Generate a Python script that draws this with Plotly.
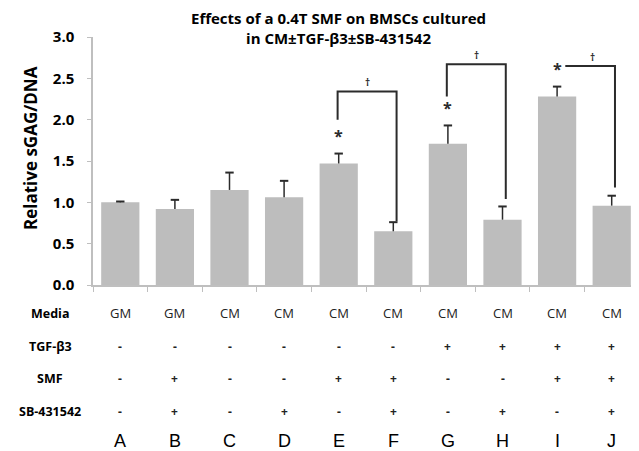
import plotly.graph_objects as go

groups = ["A", "B", "C", "D", "E", "F", "G", "H", "I", "J"]
values = [1.00, 0.92, 1.15, 1.06, 1.47, 0.65, 1.71, 0.79, 2.28, 0.96]
err_up = [0.01, 0.11, 0.21, 0.20, 0.12, 0.11, 0.22, 0.16, 0.12, 0.12]
media = ["GM", "GM", "CM", "CM", "CM", "CM", "CM", "CM", "CM", "CM"]
tgf = ["-", "-", "-", "-", "-", "-", "+", "+", "+", "+"]
smf = ["-", "+", "-", "-", "+", "+", "-", "-", "+", "+"]
sb = ["-", "+", "-", "+", "-", "+", "-", "+", "-", "+"]
row_labels = ["Media", "TGF-β3", "SMF", "SB-431542"]
y_ticks = [0.0, 0.5, 1.0, 1.5, 2.0, 2.5, 3.0]

# significance
star_groups = ["E", "G", "I"]
star_y = [1.84, 2.18, 2.65]
# brackets: left group, right group, top, left bottom, right bottom
br_left = ["E", "G", "I"]
br_right = ["F", "H", "J"]
br_top = [2.34, 2.67, 2.65]
br_left_bottom = [2.00, 2.28, 2.65]
br_right_bottom = [0.77, 1.04, 1.18]
dagger_y = [2.45, 2.78, 2.76]

# the page body adds an 8px offset, so the figure is sized to fit the window
OFF = 8
W, H = 639 - OFF, 451 - OFF
L, T = 93 - OFF, 37 - OFF
R, B = 0, 451 - 285
plot_h = H - T - B
plot_w = W - L - R

def py(pix):
    return (H - B - (pix - OFF)) / plot_h

def px(pix):
    return ((pix - OFF) - L) / plot_w

FONT = "Open Sans"
DARK = "#2b2b2b"
xi = list(range(len(groups)))

fig = go.Figure()
fig.add_trace(go.Bar(
    x=xi, y=values,
    marker=dict(color="#bdbdbd", line=dict(width=0)),
    width=0.7,
))

# upper-only error bars (stem + cap at top)
ex, ey = [], []
for i, (v, e) in enumerate(zip(values, err_up)):
    ex += [i, i, None]
    ey += [v, v + e, None]
fig.add_trace(go.Scatter(x=ex, y=ey, mode="lines",
                         line=dict(color=DARK, width=1.5), hoverinfo="skip"))
fig.add_trace(go.Scatter(x=xi, y=[v + e for v, e in zip(values, err_up)], mode="markers",
                         marker=dict(symbol="line-ew", size=6,
                                     line=dict(color=DARK, width=2)),
                         hoverinfo="skip"))

idx = {g: i for i, g in enumerate(groups)}
shapes = []
annotations = []
for l, r, top, lb, rb, dy in zip(br_left, br_right, br_top, br_left_bottom, br_right_bottom, dagger_y):
    xl = idx[l] - 0.02
    xr = idx[r] + 0.06
    if lb >= top:
        xl = idx[l] + 0.15
    shapes.append(dict(type="path", xref="x", yref="y",
                       path=f"M {xl} {lb} L {xl} {top} L {xr} {top} L {xr} {rb}",
                       line=dict(color=DARK, width=2)))
    annotations.append(dict(x=(idx[l] + idx[r]) / 2 + 0.15 if lb >= top else (xl + xr) / 2,
                            y=dy, xref="x", yref="y", text="<b>†</b>", showarrow=False,
                            xanchor="center", yanchor="middle",
                            font=dict(family=FONT, size=10, color=DARK)))
for g, sy in zip(star_groups, star_y):
    annotations.append(dict(x=idx[g], y=sy, xref="x", yref="y", text="<b>*</b>",
                            showarrow=False, xanchor="center", yanchor="middle", yshift=-3,
                            font=dict(family=FONT, size=16, color=DARK)))

# table rows
row_pix = [313, 346, 378, 411]
rows = [media, tgf, smf, sb]
for lbl, rp, vals in zip(row_labels, row_pix, rows):
    annotations.append(dict(x=px(50), y=py(rp), xref="paper", yref="paper",
                            text=f"<b>{lbl}</b>", showarrow=False,
                            xanchor="center", yanchor="middle",
                            font=dict(family=FONT, size=12.5, color="black")))
    for i, v in enumerate(vals):
        is_media = len(v) == 2
        annotations.append(dict(x=i, y=py(rp), xref="x", yref="paper",
                                text=v if is_media else f"<b>{v}</b>",
                                showarrow=False, xanchor="center", yanchor="middle",
                                font=dict(family=FONT, size=13 if is_media else 12,
                                          color="#222222")))
for i, g in enumerate(groups):
    annotations.append(dict(x=i, y=py(441), xref="x", yref="paper", text=g,
                            showarrow=False, xanchor="center", yanchor="middle",
                            font=dict(family="Liberation Sans", size=18, color="black")))

# title and axis label
annotations.append(dict(x=px(338), y=py(28), xref="paper", yref="paper",
                        text="<b>Effects of a 0.4T SMF on BMSCs cultured<br>in CM±TGF-β3±SB-431542</b>",
                        showarrow=False, align="center", xanchor="center", yanchor="middle",
                        font=dict(family=FONT, size=15, color="black")))
annotations.append(dict(x=px(30), y=py(148), xref="paper", yref="paper",
                        text="<b>Relative sGAG/DNA</b>", textangle=-90, showarrow=False,
                        xanchor="center", yanchor="middle",
                        font=dict(family=FONT, size=17, color="black")))

fig.update_layout(
    width=W, height=H,
    margin=dict(l=L, r=R, t=T, b=B),
    paper_bgcolor="white", plot_bgcolor="white",
    showlegend=False,
    shapes=shapes, annotations=annotations,
    xaxis=dict(range=[-0.5, len(groups) - 0.5], tickmode="array",
               tickvals=[i - 0.5 for i in xi], ticktext=[""] * len(xi),
               ticks="outside", ticklen=5, tickcolor="#bfbfbf",
               showline=True, linecolor="#bfbfbf", linewidth=1.5,
               showgrid=False, zeroline=False),
    yaxis=dict(range=[0, 3], tickmode="array", tickvals=y_ticks,
               ticktext=[f"<b>{v:.1f}</b>" for v in y_ticks],
               ticks="outside", ticklen=4, tickcolor="#bfbfbf",
               ticklabelstandoff=10,
               showline=True, linecolor="#bfbfbf", linewidth=1.5,
               showgrid=False, zeroline=False,
               tickfont=dict(family=FONT, size=15, color="black")),
)

fig.write_html("out.html")
